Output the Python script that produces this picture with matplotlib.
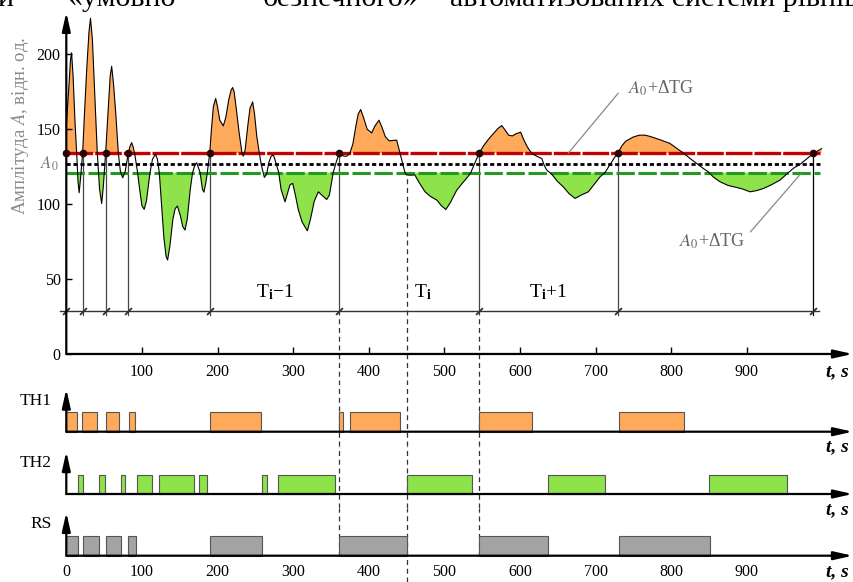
import numpy as np
import matplotlib.pyplot as plt

plt.rcParams['font.family'] = ['Liberation Serif', 'DejaVu Serif']
plt.rcParams['mathtext.fontset'] = 'stix'

# ---- дані ----
t = [0, 3, 5.5, 7, 9, 11.5, 13.7, 15.5, 17, 19, 21.6, 24, 27, 30, 32, 34.5, 37.5, 41, 44, 46.8,
     49, 52, 55, 58, 60, 62.5, 65.5, 68.8, 71.5, 74.6, 78, 82, 84.5, 86.5, 88.5, 91, 94, 97, 100, 103,
     106, 110.7, 114, 118, 120.5, 123, 126, 129, 132, 134, 137, 141, 144, 147, 151, 154, 157, 160, 164,
     167, 170, 172.5, 175, 177, 180, 182, 184.5, 186.5, 189.7, 192, 194.5, 197.6, 200, 203, 207.7, 211,
     215, 218, 220, 222, 225, 228.5, 232.4, 234, 236.5, 240, 243, 246.5, 249, 252, 255.3, 258, 262, 265,
     268, 271, 274, 277, 281, 284, 289.3, 293, 296, 299.5, 303, 307, 312, 318.8, 323, 328, 333.4, 338,
     344.4, 348, 351, 353, 357, 361, 364, 367, 371, 375, 379, 383, 386, 389.4, 393, 398, 404, 408, 413.6,
     417, 422, 427, 432, 437, 441.4, 445, 448, 450, 455, 461, 466, 474.5, 482, 490, 496, 502, 508, 516.4,
     524, 531.8, 535, 540, 546.3, 552, 558, 565, 571, 576, 581, 585, 590, 595, 601, 605, 610, 615.6, 622,
     629, 632, 635.5, 642, 650, 657.4, 665, 673, 681, 690.5, 698, 706, 712.5, 720, 725, 730, 735, 740, 750,
     758, 765.5, 772, 785, 798.5, 808, 816, 825, 834, 842, 849, 856, 864.7, 875, 886.8, 895, 904.4, 913,
     922, 933, 944, 955, 962, 970.5, 979, 988, 999]
A = [152, 175, 196, 201, 185, 155, 134, 115, 107.6, 118, 134, 160, 190, 215, 224, 210, 175, 134, 110, 100.4,
     112, 134, 160, 185, 192, 180, 160, 134, 122, 117.6, 122, 134, 139, 141, 138, 132, 122, 110, 99, 96.5,
     102, 121, 130, 133.3, 130, 121, 100, 78, 65, 62.7, 72, 90, 97, 98.7, 92, 85, 82.7, 90, 110,
     121, 126, 127.6, 124, 121, 110, 108, 114, 121, 134, 150, 165, 170.5, 165, 156, 152.2, 158,
     170, 176, 177.8, 175, 163, 148, 134, 132, 136, 152, 164, 168.2, 160, 145, 134, 126, 117.8, 120,
     128, 132, 132.7, 128, 121, 110, 101.5, 108, 113, 113.8, 106, 96, 88, 82.2, 90, 102, 108.2, 106,
     103.1, 106, 115, 121, 128, 134.2, 133, 132, 132, 134, 140, 152, 160, 163.1, 158, 150, 147.5, 152, 156,
     152, 145, 142.2, 142.5, 142.7, 134, 127, 121, 119.5, 119.3, 119.5, 115, 108.2, 105, 102.7, 99, 96.4, 101, 109.3,
     114, 118.7, 121, 127, 134.2, 139, 143, 147.1, 150.5, 152.4, 149, 146, 145.5, 147, 148, 143, 138, 134, 132,
     130.4, 126, 122.7, 120, 115, 111.5, 107, 103.8, 106, 108.2, 113, 118.2, 121, 127, 131, 134.5, 139, 142, 144.8,
     146, 146, 145.2, 143, 140.5, 137, 134.2, 130.5, 127.1, 124, 121.6, 118, 114.9, 112.5, 111.1, 110, 108.2, 109,
     110.4, 113, 116, 121, 124, 126.5, 130, 133.8, 137]

A0 = 127
A_hi = 134      # A0 + ΔTG
A_lo = 121      # A0 - ΔTG
t_end = 997

bounds = [0, 21.6, 52, 82, 189.7, 361, 546.3, 730, 988]
T_axis = 28.7
period_labels = ['T$_{\\mathbf{i}}$−1', 'T$_{\\mathbf{i}}$', 'T$_{\\mathbf{i}}$+1']
period_x = [277, 472, 637]

th1_start = [0, 21, 52, 82.5, 190, 361, 375, 546, 731]
th1_end = [14.5, 41, 70, 91, 257, 366, 442, 616, 817]
th2_start = [15, 43, 73, 93.5, 122.5, 175.5, 259, 279.5, 451, 637.5, 850.5]
th2_end = [21.5, 51, 77.5, 113, 168.5, 186, 266, 355, 536, 713, 953]
rs_start = [0, 21.5, 52, 82, 190, 361, 546, 731]
rs_end = [15.5, 43, 73, 92, 259, 451, 637.5, 851]

xticks_main = [100, 200, 300, 400, 500, 600, 700, 800, 900]
yticks_main = [0, 50, 100, 150, 200]
xticks_bottom = [0, 100, 200, 300, 400, 500, 600, 700, 800, 900]

ORANGE = '#FFAA5A'
GREEN = '#8EE24A'
GREY = '#A3A3A3'

W, H = 854, 582
XLIM = (-87.7, 1041.9)


def box(top, bottom):
    return [0, 1 - bottom / H, 1, (bottom - top) / H]


def arrow(ax, x0, y0, x1, y1):
    ax.annotate('', xy=(x1, y1), xytext=(x0, y0),
                arrowprops=dict(arrowstyle='-|>,head_length=0.8,head_width=0.18', color='k',
                                lw=1.6, shrinkA=0, shrinkB=0, mutation_scale=14))


fig = plt.figure(figsize=(W / 100, H / 100), dpi=100)

# ---------- основний графік ----------
ax = fig.add_axes(box(0, 385))
ax.set_xlim(*XLIM)
ax.set_ylim(-20.7, 236.2)
for s in ['top', 'right']:
    ax.spines[s].set_visible(False)
ax.spines['left'].set_position(('data', 0))
ax.spines['bottom'].set_position(('data', 0))
ax.spines['left'].set_visible(False)
ax.spines['bottom'].set_visible(False)
ax.set_xticks(xticks_main)
ax.set_yticks(yticks_main)
ax.tick_params(axis='x', direction='in', length=5, width=1, pad=7, labelsize=11.5)
ax.tick_params(axis='y', direction='in', length=4, width=1, pad=4, labelsize=11.5)
ax.patch.set_alpha(0)

tt = np.array(t)
aa = np.array(A)
ax.fill_between(tt, aa, A_hi, where=aa >= A_hi, interpolate=True, color=ORANGE, lw=0, zorder=1)
ax.fill_between(tt, aa, A_lo, where=aa <= A_lo, interpolate=True, color=GREEN, lw=0, zorder=1)

ax.plot([0, t_end], [A_hi, A_hi], color='#C40000', lw=2.4, ls=(0, (8, 0.6)), zorder=3)
ax.plot([0, t_end], [A0, A0], color='k', lw=2, ls=(0, (1.5, 1)), zorder=3)
ax.plot([0, t_end], [A_lo, A_lo], color='#229A22', lw=2.2, ls=(0, (6, 1.2)), zorder=3)
ax.plot(tt, aa, color='k', lw=0.8, zorder=4)

# межі періодів
for b in bounds[1:]:
    if b in (361, 546.3):
        ax.plot([b, b], [T_axis, A_hi], color='#444', lw=0.9, zorder=2)
        ax.plot([b, b], [-20.7, T_axis], color='#333', lw=0.9, ls=(0, (4, 3)), zorder=2)
    else:
        ax.plot([b, b], [T_axis - 2.5, A_hi], color='#444' if b != 988 else 'k', lw=0.9, zorder=2)
ax.plot([451, 451], [-20.7, 119.4], color='#333', lw=0.9, ls=(0, (4, 3)), zorder=2)
ax.plot(bounds, [A_hi] * len(bounds), 'o', color='#2a0000', ms=4.5, zorder=5)

ax.plot([-8, 995], [T_axis, T_axis], color='#333', lw=1, zorder=2)
ax.plot(bounds, [T_axis] * len(bounds), ls='none', marker=(2, 2, -45), ms=7, color='#333', mew=0.9, zorder=2)
for lab, px in zip(period_labels, period_x):
    ax.text(px, 41, lab, fontsize=14, ha='center', va='center')

# підписи
ax.text(-10, A0, '$\\mathit{A}_0$', fontsize=12, color='#777', ha='right', va='center')
ax.text(-61, 152, 'Амплітуда $\\mathit{A}$, відн. од.', rotation=90, fontsize=13.5, color='#8a8a8a',
        ha='center', va='center')
ax.plot([730, 664], [174, 134], color='#888', lw=0.9, zorder=3)
ax.text(743, 177.5, '$\\mathit{A}_0$+ΔTG', fontsize=13, color='#666', ha='left', va='center')
ax.plot([905, 971], [81.5, 120], color='#888', lw=0.9, zorder=3)
ax.text(811, 75.4, '$\\mathit{A}_0$+ΔTG', fontsize=13, color='#666', ha='left', va='center')

arrow(ax, 0, 0, 0, 228)
arrow(ax, 0, 0, 1040, 0)
ax.text(1020, -12, 't, s', fontsize=14, style='italic', weight='bold', ha='center', va='center')

# ---------- діаграми TH1, TH2, RS ----------
panels = [
    ('TH1', 385, 446, 431.7, 19.4, th1_start, th1_end, ORANGE),
    ('TH2', 446, 508, 494.0, 19.3, th2_start, th2_end, GREEN),
    ('RS', 508, 582, 555.7, 19.7, rs_start, rs_end, GREY),
]
for name, top, bot, base, sc, st, en, col in panels:
    a = fig.add_axes(box(top, bot))
    a.set_xlim(*XLIM)
    y0, y1 = (base - bot) / sc, (base - top) / sc
    a.set_ylim(y0, y1)
    for s in a.spines.values():
        s.set_visible(False)
    a.spines['bottom'].set_position(('data', 0))
    a.patch.set_alpha(0)
    a.set_yticks([])
    if name == 'RS':
        a.set_xticks(xticks_bottom)
        a.tick_params(axis='x', length=0, pad=6, labelsize=11.5)
    else:
        a.set_xticks([])
    st = np.array(st)
    en = np.array(en)
    a.bar(st, np.ones(len(st)), width=en - st, align='edge', color=col, edgecolor='#555', lw=0.8, zorder=2)
    for b in (361, 546.3):
        a.plot([b, b], [0 if name == 'RS' else y0, y1], color='#333', lw=0.9, ls=(0, (4, 3)), zorder=1)
    a.plot([451, 451], [y0, y1], color='#333', lw=0.9, ls=(0, (4, 3)), zorder=1)
    arrow(a, 0, 0, 0, 2.2)
    arrow(a, 0, 0, 1040, 0)
    a.text(-19, 1.6, name, fontsize=12.5, ha='right', va='center')
    a.text(1020, -0.8, 't, s', fontsize=14, style='italic', weight='bold', ha='center', va='center')

# обрізаний рядок тексту документа над рисунком
for word, px in [('и', -3), ('«умовно', 67), ('безпечного»', 263), ('автоматизованих системи рівнів', 450)]:
    fig.text(px / W, 1 - 6 / H, word, fontsize=21.5, va='baseline', ha='left')

fig.savefig('out.png', dpi=100)
